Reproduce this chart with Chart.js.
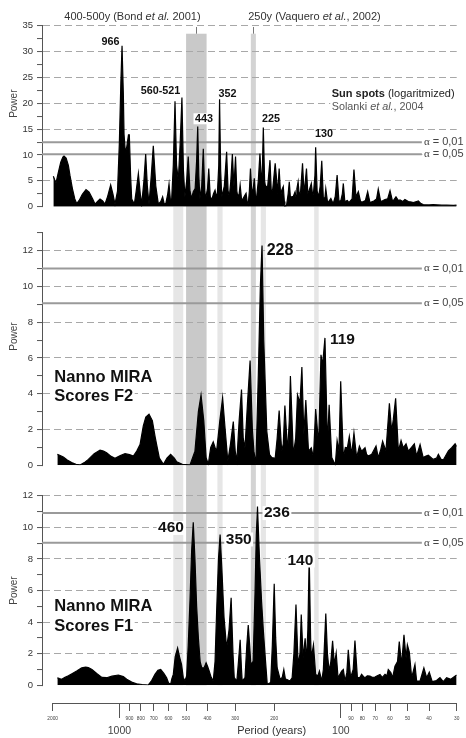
<!DOCTYPE html>
<html>
<head>
<meta charset="utf-8">
<script src="https://cdn.jsdelivr.net/npm/chart.js@4/dist/chart.umd.min.js"></script>
<style>
html,body{margin:0;padding:0;background:#fff;}
#wrap{position:relative;width:466px;height:738px;overflow:hidden;background:#fff;}
canvas{position:absolute;left:0;display:block;}
</style>
</head>
<body>
<div id="wrap">
  <canvas id="c1" width="466" height="220" style="top:0px"></canvas>
  <canvas id="c2" width="466" height="255" style="top:220px"></canvas>
  <canvas id="c3" width="466" height="220" style="top:475px"></canvas>
  <canvas id="c4" width="466" height="43" style="top:695px"></canvas>
</div>
<script>
// ---------------- DATA ----------------
// Panel 1: Sun spots (logaritmized), Solanki et al., 2004
const p1Periods = [
  1987,1960,1933,1890,1840,1800,1779,1740,1700,1671,
  1630,1590,1559,1520,1470,1415,1370,1320,1289,1255,
  1223,1190,1162,1130,1095,1070,1047,1020,1001,985,
  973,960,953,940,927,910,902,890,880,856,
  840,821,805,793,775,761,748,735,718,703,
  685,667,650,638,628,618,605,597,589,581,
  571,561,552,542,532,522,514,506,497,489,
  480,472,464,455,448,443,438,433,425,418,
  412,408,400,395,389,383,376,370,365,361,
  356,353,349,345,336,328,323,319,314,309,
  304,299,295,292,288,285,281,278,273,268,
  265,262,259,256,253,251,248,246,243,240,
  236,232,228,226,224,221,219,214,209,206,
  203,198,195,193,190,187,185,182,180,179,
  176,173,171,169,167,164,161,159,158,156,
  154,152,149,147,146,143,141,139,136,134,
  133,131,130,128,126,124,122,120,118,117,
  115,114,111,109,108,106,104,102,100,98.5,
  97.5,96,93.5,92,89,87.3,85.5,83.4,81.5,80,
  77.5,75.7,73.9,72,71,69,67.8,66.1,64.5,63.2,
  61.5,60,58.4,56.4,55,54.1,52.5,51.4,49.6,48,
  47.1,45.5,44.7,43.5,42.5,40,38.3,35,33.3,31,
  30
];
const p1Power = [
  5.9,5.2,4.6,6.5,8.6,9.6,9.8,9.4,8.0,6.0,
  3.5,1.5,0.6,1.2,2.4,3.3,2.8,1.5,0.5,1.0,
  1.5,1.1,0.5,2.0,4.2,2.5,0.5,3.0,12.0,24.0,
  31.1,22.0,14.0,10.5,11.5,13.9,13.9,6.0,1.5,0.5,
  3.0,6.4,2.5,0.5,5.0,10.2,4.0,0.5,6.0,11.8,
  4.0,0.5,1.0,1.9,0.6,0.5,2.5,4.4,1.5,1.3,
  8.0,20.4,8.0,5.2,12.0,21.1,7.0,1.9,5.0,9.7,
  3.0,1.6,2.9,3.5,9.0,15.5,6.0,1.6,4.0,11.2,
  3.0,1.6,3.5,7.4,2.0,1.3,2.5,3.2,2.0,2.6,
  8.0,20.8,7.0,1.9,4.0,10.6,3.0,1.9,5.0,10.2,
  3.9,9.7,3.0,1.9,2.5,4.2,1.5,1.4,2.0,2.6,
  1.0,0.5,3.0,7.4,3.5,2.6,4.0,5.5,2.0,1.9,
  5.0,10.3,3.9,8.0,15.3,5.0,3.9,4.0,9.0,2.5,
  3.5,8.4,5.2,2.5,7.4,2.0,3.2,3.9,1.0,0.1,
  0.2,2.5,4.8,1.8,1.9,2.0,2.9,1.5,3.5,4.8,
  2.0,3.0,8.4,3.5,3.2,7.4,2.5,3.2,4.5,2.0,
  2.6,6.0,11.5,3.0,1.9,4.0,8.9,1.6,1.8,3.5,
  1.0,0.9,1.6,0.8,0.8,2.0,6.1,1.0,1.2,2.5,
  4.5,1.0,1.2,0.8,1.5,7.2,1.9,2.9,1.0,0.9,
  1.2,2.9,0.8,1.0,1.1,1.5,3.4,1.0,1.2,1.4,
  1.5,3.1,1.0,1.9,1.2,1.3,1.0,1.4,1.0,0.9,
  0.8,1.0,1.1,0.6,0.4,0.35,0.4,0.3,0.3,0.25,
  0.3
];

// Panel 2: Nanno MIRA Scores F2
const p2Periods = [
  1906,1850,1791,1720,1643,1570,1506,1440,1381,1300,
  1223,1180,1142,1090,1047,990,943,900,865,835,
  807,780,760,735,710,690,679,660,633,610,
  587,565,551,520,480,456,440,428,416,406,
  397,387,377,370,364,352,342,333,324,315,
  306,300,295,288,281,276,271,264,257,251,
  247,242,236,231,227,223,216,210,205,198,
  194,190,185,182,179,174,171,169,164,160,
  157,153,150,147,144,140,136,133,130,126,
  123,121,118,115,113,110,106,104,102,100.2,
  97.5,95.5,93.5,91.6,89.4,87.3,84.9,82.5,80.6,77.8,
  76.5,75.2,72.6,69.4,67.8,66,64.8,62.6,60.4,59,
  58,56.6,55,53.5,52.3,50.8,49.6,48,46.6,45.5,
  43.9,42.5,41.5,40.3,38.3,37,36.3,35.3,34.5,32.7,
  31.6,30.5,30
];
const p2Power = [
  0.61,0.55,0.46,0.3,0.15,0.05,0.02,0.15,0.33,0.65,
  0.85,0.8,0.7,0.5,0.39,0.55,0.65,0.6,0.52,0.8,
  1.16,2.2,2.7,2.86,2.5,1.6,1.16,0.4,0.06,0.4,
  0.61,0.4,0.2,0.05,0.02,0.79,3.0,3.93,2.5,0.43,
  0.06,1.0,1.31,1.0,0.79,2.5,3.78,2.0,0.24,1.2,
  2.45,0.8,0.24,2.5,4.24,1.5,0.98,3.5,5.86,2.0,
  0.79,0.06,5.0,10.0,12.28,7.0,1.9,0.6,0.43,0.39,
  1.5,3.06,0.79,1.2,3.34,0.79,2.5,4.99,0.6,1.5,
  3.93,3.5,5.49,1.72,3.65,0.79,0.98,0.43,3.15,1.16,
  6.18,5.59,7.12,1.16,3.38,0.43,0.02,1.38,0.79,4.7,
  0.43,1.0,0.98,1.62,0.6,1.81,0.43,1.07,0.79,0.98,
  0.6,0.52,0.61,1.07,0.43,0.9,1.35,0.79,3.47,1.9,
  2.55,3.74,0.79,1.38,0.98,1.2,0.79,1.0,1.2,0.52,
  1.16,0.43,0.5,0.57,0.33,0.4,0.61,0.33,0.3,0.8,
  0.98,1.2,1.05
];

// Panel 3: Nanno MIRA Scores F1
const p3Periods = [
  1906,1865,1823,1760,1700,1630,1559,1480,1420,1381,
  1330,1266,1200,1142,1080,1011,960,927,880,836,
  790,740,715,691,670,651,630,612,600,587,
  580,571,560,546,535,524,515,506,497,489,
  480,472,464,456,448,440,432,425,415,406,
  400,393,385,377,370,364,357,351,345,337,
  328,320,313,307,303,295,290,285,281,279,
  271,266,262,258,255,249,244,241,238,233,
  228,224,220,215,207.5,204,200,197,194,188,
  184,181,178,176,170,166,163,159.5,156,153,
  151,148,145,143,141,139,137,136,133,130,
  127,125,122,120,117,115,113,111,109,107,
  105,103,101,99.2,97.5,95.8,94,92.6,90.4,88,
  86.4,84.2,82,80.6,79,77.8,76,73.9,72,70.2,
  68.5,66.6,65,63.2,62,61.1,59.5,58.4,57,55.5,
  54.5,53.2,51.9,50.8,50.1,49.1,47.9,46.3,45.5,43.9,
  42.2,41,39.9,38.7,37,35.7,34.5,33.3,31.9,30.9,
  30
];
const p3Power = [
  0.48,0.42,0.38,0.5,0.6,0.75,0.9,1.1,1.15,1.12,
  1.0,0.75,0.5,0.48,0.58,0.65,0.55,0.38,0.2,0.1,
  0.05,0.02,0.3,0.69,0.95,1.0,0.75,0.48,0.15,0.06,
  0.4,0.69,1.8,2.36,1.8,1.31,0.5,0.27,0.6,2.5,
  5.4,8.5,10.31,8.0,5.0,3.0,1.5,1.11,1.1,1.42,
  1.2,0.9,0.5,0.27,1.5,4.65,8.0,9.54,7.5,4.3,
  2.36,3.5,5.54,2.0,0.48,0.27,1.5,2.88,1.0,0.27,
  0.48,2.5,3.81,2.5,1.31,1.52,6.0,9.5,11.31,8.0,
  5.27,3.5,1.94,0.06,0.17,2.5,6.42,3.0,1.11,0.38,
  0.5,1.0,0.4,0.38,0.27,0.48,2.0,5.11,1.31,2.0,
  4.48,1.73,2.98,1.52,3.5,8.19,3.0,1.73,2.56,0.69,
  0.6,0.9,0.27,1.0,4.54,2.0,0.9,1.5,2.81,1.31,
  2.04,0.48,0.7,0.9,1.0,0.27,0.8,2.25,0.48,1.0,
  2.84,0.48,0.5,0.69,0.55,0.48,0.6,0.59,0.5,0.52,
  0.6,0.69,0.5,0.69,0.6,1.0,0.8,0.48,1.21,1.5,
  2.77,1.31,3.19,1.73,2.56,2.1,0.48,1.31,0.27,0.27,
  1.1,0.48,0.83,0.23,0.3,0.48,0.23,0.48,0.38,0.52,
  0.65
];

// significance levels (alpha = 0.01, alpha = 0.05)
const sigNames = ['\u03b1', ' = 0,01', ' = 0,05'];
const p1Sig = [12.45, 10.13];
const p2Sig = [11.0, 9.05];
const p3Sig = [10.9, 9.03];

// y tick values
const p1Ticks = [0,2.5,5,7.5,10,12.5,15,17.5,20,22.5,25,27.5,30,32.5,35];
const p2Ticks = [0,1,2,3,4,5,6,7,8,9,10,11,12,13];
const p3Ticks = [0,1,2,3,4,5,6,7,8,9,10,11,12];

// period axis ticks
const axisTicks = [2000,1000,900,800,700,600,500,400,300,200,100,90,80,70,60,50,40,30];
const bigTicks = [1000,100];

// highlighted period bands [from, to] (years)
const bandPeriods = [[571,515],[500,404],[361,342],[255,242],[230,218],[132,126]];
const bandSource = ['peak','Bond 2001','peak','Vaquero 2002','peak','peak'];

// ---------------- STYLE / LAYOUT ----------------
const FF = '"Liberation Sans", Arial, Helvetica, sans-serif';
const SERIF = '"Liberation Serif", "Times New Roman", serif';
Chart.defaults.font.family = FF;
const X_MIN = 30, X_MAX = 2236;
const SIG_END = 43.1, ALPHA_AT = 42.2;
const BAND_COLORS = {'peak':'#e6e6e6','Bond 2001':'#c9c9c9','Vaquero 2002':'#d3d3d3'};

const F_TOP = '11px ' + FF, F_TOP_I = 'italic 11px ' + FF;
const F_PK1 = 'bold 10.8px ' + FF;
const F_PK = 'bold 15.5px ' + FF;
const F_NANNO = 'bold 16.5px ' + FF;
const F_ALPHA_G = '11px ' + SERIF, F_ALPHA = '11px ' + FF;

function alphaNotes(sig) {
  return sig.map((s, i) => ({segs: [[sigNames[0], F_ALPHA_G], [sigNames[i + 1], F_ALPHA]],
    p: ALPHA_AT, v: s, align: 'left', bg: true, h: 11, color: '#444'}));
}

const p1Notes = [
  {segs: [['400-500y (Bond ', F_TOP], ['et al.', F_TOP_I], [' 2001)', F_TOP]], p: 1774, v: 36.74, align: 'left', color: '#333'},
  {segs: [['250y (Vaquero ', F_TOP], ['et al.', F_TOP_I], [', 2002)', F_TOP]], p: 262, v: 36.74, align: 'left', color: '#333'},
  {segs: [['966', F_PK1]], p: 1097, v: 31.8, align: 'center'},
  {segs: [['560-521', F_PK1]], p: 652, v: 22.4, align: 'center'},
  {segs: [['443', F_PK1]], p: 415, v: 17.0, align: 'center', bg: true, h: 11},
  {segs: [['352', F_PK1]], p: 325, v: 21.7, align: 'center'},
  {segs: [['225', F_PK1]], p: 207, v: 17.0, align: 'center'},
  {segs: [['130', F_PK1]], p: 119.2, v: 14.0, align: 'center'},
  {segs: [['Sun spots', 'bold 11px ' + FF], [' (logaritmized)', '11px ' + FF]], p: 110, v: 21.8, align: 'left', bg: true, h: 12.7, minW: 127, color: '#222'},
  {segs: [['Solanki ', '10.8px ' + FF], ['et al.', 'italic 10.8px ' + FF], [', 2004', '10.8px ' + FF]], p: 110, v: 19.34, align: 'left', bg: true, h: 12.7, minW: 127, color: '#555'}
].concat(alphaNotes(p1Sig));

const p2Notes = [
  {segs: [['228', 'bold 16px ' + FF]], p: 216.3, v: 12.0, align: 'left', bg: true, h: 14},
  {segs: [['119', F_PK]], p: 112, v: 7.02, align: 'left', bg: true, h: 14},
  {segs: [['Nanno MIRA', F_NANNO]], p: 1967, v: 4.89, align: 'left', bg: true, h: 17},
  {segs: [['Scores F2', F_NANNO]], p: 1967, v: 3.84, align: 'left', bg: true, h: 17}
].concat(alphaNotes(p2Sig));

const p3Notes = [
  {segs: [['460', F_PK]], p: 511, v: 9.96, align: 'right', bg: true, h: 14},
  {segs: [['350', F_PK]], p: 331, v: 9.23, align: 'left', bg: true, h: 14},
  {segs: [['236', F_PK]], p: 222.4, v: 10.9, align: 'left', bg: true, h: 14},
  {segs: [['140', F_PK]], p: 133.2, v: 7.9, align: 'right', bg: true, h: 14},
  {segs: [['Nanno MIRA', F_NANNO]], p: 1967, v: 4.96, align: 'left', bg: true, h: 17},
  {segs: [['Scores F1', F_NANNO]], p: 1967, v: 3.75, align: 'left', bg: true, h: 17}
].concat(alphaNotes(p3Sig));

// ---------------- PLUGINS ----------------
function bandsPlugin(mode) {
  return {
    id: 'bands',
    beforeDraw(chart) {
      const {ctx} = chart, xs = chart.scales.x, ys = chart.scales.y;
      ctx.save();
      bandPeriods.forEach((b, i) => {
        const src = bandSource[i];
        const xa = xs.getPixelForValue(b[0]), xb = xs.getPixelForValue(b[1]);
        let top = 0, bottom = chart.height;
        if (mode === 'top') {
          top = src === 'peak' ? ys.getPixelForValue(0) : ys.getPixelForValue(33.45);
        } else if (mode === 'bottom') {
          bottom = ys.getPixelForValue(0);
        }
        ctx.fillStyle = BAND_COLORS[src];
        ctx.fillRect(Math.min(xa, xb), top, Math.abs(xb - xa), bottom - top);
      });
      if (mode === 'top') {
        ctx.strokeStyle = '#777';
        ctx.lineWidth = 1;
        [[500, 404], [255, 242]].forEach(b => {
          const xc = Math.round((xs.getPixelForValue(b[0]) + xs.getPixelForValue(b[1])) / 2) + 0.5;
          ctx.beginPath();
          ctx.moveTo(xc, ys.getPixelForValue(33.45));
          ctx.lineTo(xc, ys.getPixelForValue(34.75));
          ctx.stroke();
        });
      }
      ctx.restore();
    }
  };
}

function notesPlugin(notes) {
  return {
    id: 'notes',
    afterDraw(chart) {
      const {ctx} = chart, xs = chart.scales.x, ys = chart.scales.y;
      ctx.save();
      notes.forEach(n => {
        const x = xs.getPixelForValue(n.p), y = ys.getPixelForValue(n.v);
        let w = 0;
        n.segs.forEach(s => { ctx.font = s[1]; w += ctx.measureText(s[0]).width; });
        let sx = n.align === 'center' ? x - w / 2 : (n.align === 'right' ? x - w : x);
        if (n.bg) {
          ctx.fillStyle = '#fff';
          ctx.fillRect(sx - 1.5, y - n.h / 2, Math.max(w, n.minW || 0) + 3, n.h);
        }
        ctx.textBaseline = 'middle';
        ctx.textAlign = 'left';
        n.segs.forEach(s => {
          ctx.font = s[1];
          ctx.fillStyle = n.color || '#111';
          ctx.fillText(s[0], sx, y);
          sx += ctx.measureText(s[0]).width;
        });
      });
      ctx.restore();
    }
  };
}

// ---------------- CHARTS ----------------
function panel(id, o) {
  const ds = [{
    data: o.periods.map((p, i) => ({x: p, y: o.power[i]})),
    borderColor: '#000', backgroundColor: '#000', borderWidth: 1.2,
    fill: 'origin', pointRadius: 0, tension: 0, order: 0
  }];
  o.sig.forEach(s => ds.push({
    data: [{x: X_MAX, y: s}, {x: SIG_END, y: s}],
    borderColor: '#9a9a9a', borderWidth: 2, pointRadius: 0, fill: false, order: 1
  }));
  return new Chart(document.getElementById(id), {
    type: 'line',
    data: {datasets: ds},
    options: {
      responsive: false, animation: false, devicePixelRatio: 1, events: [],
      layout: {padding: {left: 0, right: 9.3, top: o.padTop, bottom: o.padBottom}},
      plugins: {legend: {display: false}, tooltip: {enabled: false}},
      scales: {
        x: {type: 'logarithmic', reverse: true, min: X_MIN, max: X_MAX, bounds: 'data', display: false},
        y: {
          type: 'linear', min: 0, max: o.ticks[o.ticks.length - 1], bounds: 'data',
          afterFit: s => { s.width = 42; },
          afterBuildTicks: s => { s.ticks = o.ticks.map(v => ({value: v})); },
          ticks: {
            autoSkip: false, padding: 4, color: '#333',
            font: {family: FF, size: 9.5},
            callback: v => (v % o.labelStep === 0) ? String(v) : ''
          },
          grid: {
            color: c => (c.tick && c.tick.value > 0 && c.tick.value % o.labelStep === 0) ? '#a8a8a8' : 'rgba(0,0,0,0)',
            lineWidth: 1.1, tickColor: '#555', tickLength: 5, tickWidth: 1, drawTicks: true,
            borderDash: [7, 4]
          },
          border: {display: true, color: '#555', width: 1, dash: [7, 4]},
          title: {display: true, text: o.title, color: '#444', font: {family: FF, size: 10}, padding: {top: 8, bottom: 0}}
        }
      }
    },
    plugins: [bandsPlugin(o.mode), notesPlugin(o.notes)]
  });
}

panel('c1', {periods: p1Periods, power: p1Power, sig: p1Sig, ticks: p1Ticks, labelStep: 5,
  padTop: 25.7, padBottom: 13.3, mode: 'top', notes: p1Notes, title: '         Power'});
panel('c2', {periods: p2Periods, power: p2Power, sig: p2Sig, ticks: p2Ticks, labelStep: 2,
  padTop: 12.7, padBottom: 7.3, mode: 'middle', notes: p2Notes, title: '         Power'});
panel('c3', {periods: p3Periods, power: p3Power, sig: p3Sig, ticks: p3Ticks, labelStep: 2,
  padTop: 20.7, padBottom: 7.3, mode: 'bottom', notes: p3Notes, title: 'Power'});

// bottom period axis
const isBig = c => !!(c && c.tick && bigTicks.includes(c.tick.value));
new Chart(document.getElementById('c4'), {
  type: 'line',
  data: {datasets: []},
  options: {
    responsive: false, animation: false, devicePixelRatio: 1, events: [],
    layout: {padding: {left: 52.7, right: 9.3, top: 2, bottom: 0}},
    plugins: {legend: {display: false}, tooltip: {enabled: false}},
    scales: {
      x: {
        type: 'logarithmic', reverse: true, min: 30, max: 2000, bounds: 'data', position: 'bottom',
        afterBuildTicks: s => { s.ticks = axisTicks.map(v => ({value: v})); },
        afterFit: s => { s.height = 34.3; },
        ticks: {
          autoSkip: false, maxRotation: 0, minRotation: 0, padding: -2.4, color: '#444',
          callback: v => bigTicks.includes(v) ? ['', String(v)] : String(v),
          font: c => isBig(c) ? {family: FF, size: 10.5, lineHeight: '10.3px'} : {family: FF, size: 4.8, lineHeight: 1.2}
        },
        grid: {
          drawOnChartArea: false, drawTicks: true, tickLength: 14.3, tickColor: '#555', tickWidth: 1,
          tickBorderDash: c => isBig(c) ? [] : [7, 40]
        },
        border: {display: true, color: '#555', width: 1}
      },
      y: {display: false, min: 0, max: 1}
    }
  },
  plugins: [{
    id: 'periodTitle',
    afterDraw(chart) {
      const ctx = chart.ctx;
      ctx.save();
      ctx.font = '11px ' + FF;
      ctx.fillStyle = '#333';
      ctx.textAlign = 'center';
      ctx.textBaseline = 'middle';
      ctx.fillText('Period (years)', 271.7, 36);
      ctx.restore();
    }
  }]
});
</script>
</body>
</html>
